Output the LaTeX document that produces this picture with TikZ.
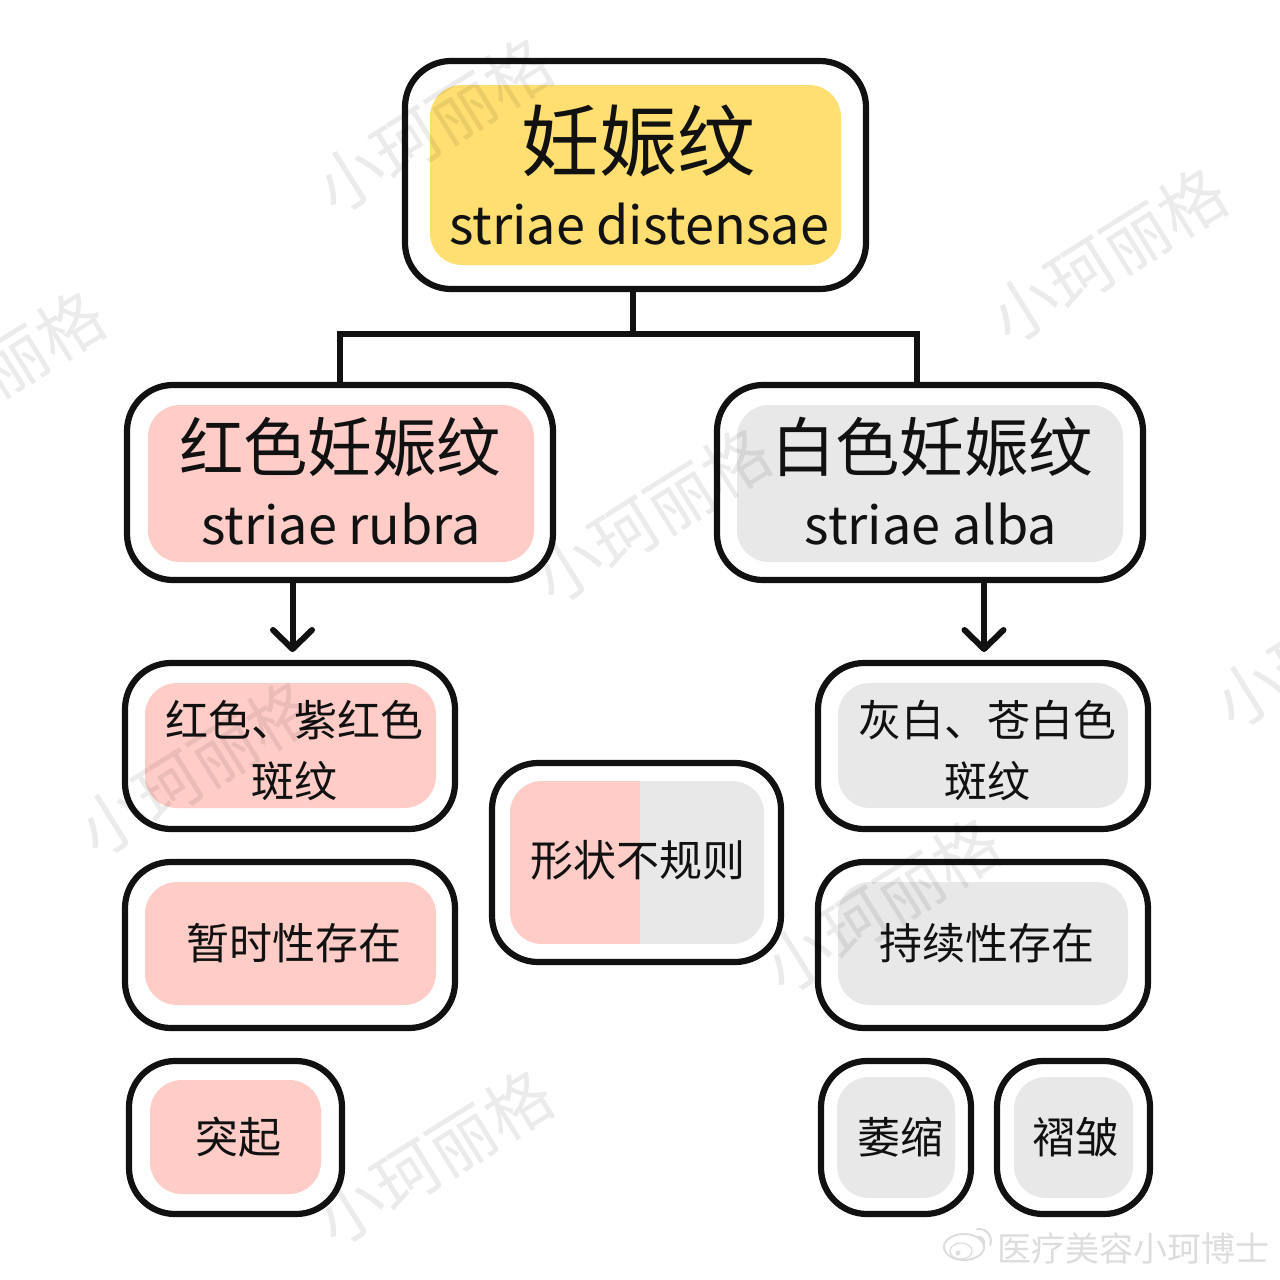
\documentclass[tikz,border=0pt]{standalone}
\usepackage{fontspec}
\setmainfont{Noto Sans CJK SC}
\definecolor{ylw}{HTML}{FFDF71}
\definecolor{pnk}{HTML}{FFCCC7}
\definecolor{gry}{HTML}{E8E8E9}
\definecolor{wm}{HTML}{EBEBEB}
\definecolor{crd}{HTML}{DDDDDD}
\definecolor{ink}{HTML}{111111}
\tikzset{
 outer/.style={draw=ink,line width=3.1pt,fill=white,rounded corners=23pt},
 inner/.style={rounded corners=16pt},
 lnk/.style={draw=ink,line width=3pt},
 wmk/.style={text=wm,font=\fontsize{33}{33}\selectfont,rotate=32},
 lbl/.style={text=ink,align=center,inner sep=0pt}
}
\newcommand{\fs}[1]{\fontsize{#1}{#1}\selectfont}
\newcommand{\boxpair}[9]{% name, x0,y0,x1,y1, ix0,iy0,ix1,iy1
 \path[outer] (#2,#3) rectangle (#4,#5);
 \coordinate (#1) at ({(#2+#4)/2},{(#3+#5)/2});
 \path[inner,fill=\boxfill] (#6,#7) rectangle (#8,#9);
}
\begin{document}
\begin{tikzpicture}[x=0.5pt,y=-0.5pt]
\useasboundingbox (0,0) rectangle (1280,1280);
\fill[white] (0,0) rectangle (1280,1280);
% connectors behind the boxes
\coordinate (jn) at (632.5,334);
\coordinate (jl) at (340,334);
\coordinate (jr) at (917,334);
\coordinate (topS) at (632.5,289);
\coordinate (redN) at (340,385);
\coordinate (whtN) at (917,385);
\draw[lnk] (topS) -- (jn);
\draw[lnk,line join=miter] (redN) -- (jl) -- (jr) -- (whtN);
\def\boxfill{ylw}
\boxpair{top}{405}{61}{866}{289}{430}{85}{841}{265}
\def\boxfill{pnk}
\boxpair{red}{127}{385}{553}{580}{148}{405}{534}{562}
\boxpair{r1}{125}{663}{455}{829}{145}{683}{436}{808}
\boxpair{r2}{125}{862}{455}{1028}{145}{882}{436}{1005}
\boxpair{r3}{129}{1061}{342}{1214}{150}{1080}{321}{1194}
\def\boxfill{gry}
\boxpair{wht}{717}{385}{1143}{580}{737}{405}{1123}{562}
\boxpair{g1}{818}{663}{1148}{829}{838}{683}{1128}{808}
\boxpair{g2}{818}{862}{1148}{1028}{838}{882}{1128}{1005}
\boxpair{g3}{821}{1061}{971}{1214}{837}{1077}{955}{1198}
\boxpair{g4}{997}{1061}{1150}{1214}{1014}{1077}{1133}{1198}
% centre split box
\path[outer] (492,763) rectangle (781,962);
\coordinate (mid) at (636,862);
\begin{scope}
\clip[rounded corners=16pt] (510,781) rectangle (764,944);
\fill[pnk] (510,781) rectangle (640,944);
\fill[gry] (640,781) rectangle (764,944);
\end{scope}
% arrows
\coordinate (a1s) at (292.5,580);
\coordinate (a1) at (292.5,649);
\coordinate (a1l) at (273,630);
\coordinate (a1r) at (312,630);
\coordinate (a2s) at (984,580);
\coordinate (a2) at (984,649);
\coordinate (a2l) at (964.5,630);
\coordinate (a2r) at (1003.5,630);
\draw[lnk] (a1s) -- (a1);
\draw[lnk,line cap=round,line join=round] (a1l) -- (a1) -- (a1r);
\draw[lnk] (a2s) -- (a2);
\draw[lnk,line cap=round,line join=round] (a2l) -- (a2) -- (a2r);
% labels
\node[lbl,font=\fs{39}] (t1) at (638,141) {妊娠纹};
\node[lbl,font=\fs{26.1}] (t2) at (639,224) {striae distensae};
\node[lbl,font=\fs{32.2}] (t3) at (340,447) {红色妊娠纹};
\node[lbl,font=\fs{26.1}] (t4) at (341,524) {striae rubra};
\node[lbl,font=\fs{32.2}] (t5) at (932,447) {白色妊娠纹};
\node[lbl,font=\fs{26.1}] (t6) at (931,524) {striae alba};
\node[lbl,font=\fs{21.5}] (t7) at (294,720) {红色、紫红色};
\node[lbl,font=\fs{21.5}] (t8) at (294,781) {斑纹};
\node[lbl,font=\fs{21.5}] (t9) at (294,943) {暂时性存在};
\node[lbl,font=\fs{21.5}] (t10) at (238,1137) {突起};
\node[lbl,font=\fs{21.5}] (t11) at (638,860) {形状不规则};
\node[lbl,font=\fs{21.5}] (t12) at (987,720) {灰白、苍白色};
\node[lbl,font=\fs{21.5}] (t13) at (987,781) {斑纹};
\node[lbl,font=\fs{21.5}] (t14) at (987,943) {持续性存在};
\node[lbl,font=\fs{21.5}] (t15) at (900,1137) {萎缩};
\node[lbl,font=\fs{21.5}] (t16) at (1075,1137) {褶皱};
% watermarks, over everything
\begin{scope}[blend mode=multiply]
\foreach \n/\x/\y in {w1/434/125,w2/1108/255,w3/652/515,w5/196/768,w6/882/905,w7/434/1157,w8/-14/378,w9/1332/640}{
 \node[wmk] (\n) at (\x,\y) {小珂丽格};
}
\end{scope}
% credit
\node[lbl,font=\fs{17},text=crd] (cr) at (1133,1248) {医疗美容小珂博士};
\draw[crd,line width=1pt] (964,1247) ellipse [x radius=20,y radius=13];
\draw[crd,line width=.6pt] (961,1251) ellipse [x radius=11,y radius=8];
\fill[crd] (958,1253) circle [radius=2.5];
\draw[crd,line width=1pt,line cap=round] (977,1229) .. controls (988,1228) and (993,1238) .. (990,1245);
\draw[crd,line width=1pt,line cap=round] (977,1237) .. controls (982,1236) and (985,1240) .. (984,1244);
\end{tikzpicture}
\end{document}
